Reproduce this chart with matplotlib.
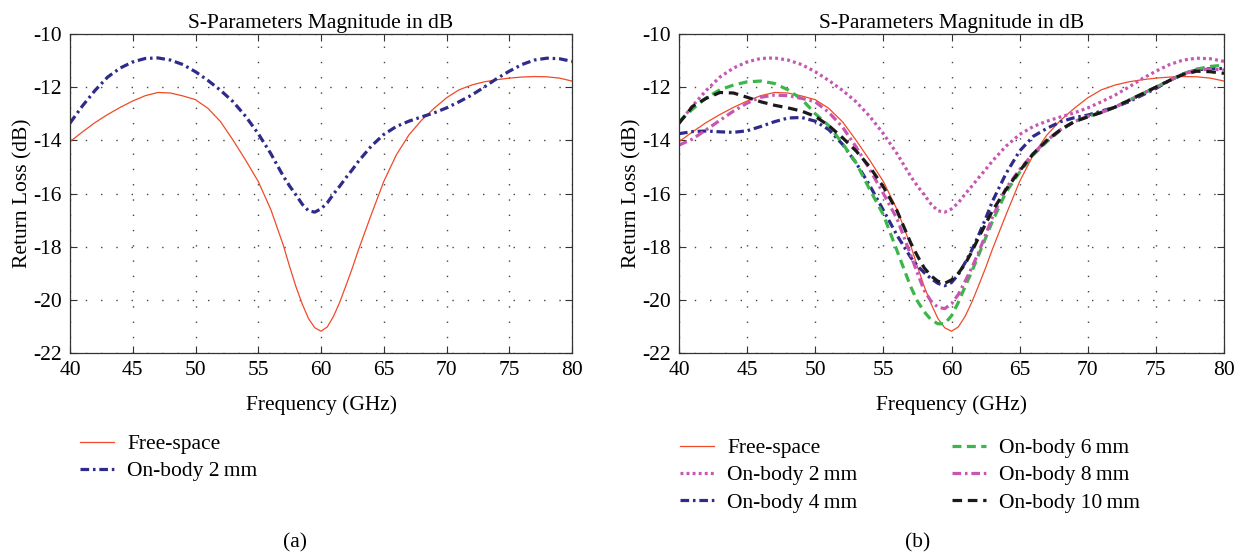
import matplotlib
matplotlib.use("Agg")
import matplotlib.pyplot as plt

plt.rcParams['font.family'] = ['Liberation Serif', 'DejaVu Serif']
plt.rcParams['font.size'] = 15.5

# ---------------- data ----------------
freq = [40, 41, 42, 43, 44, 45, 46, 47, 48, 49, 50, 51, 52, 53, 54, 55, 56, 57, 57.5, 58,
        58.5, 59, 59.5, 60, 60.5, 61, 61.5, 62, 62.5, 63, 64, 65, 66, 67, 68, 69, 70,
        71, 72, 73, 74, 75, 76, 77, 78, 79, 80]

free_space = [-14.05, -13.68, -13.33, -13.03, -12.76, -12.52, -12.32, -12.20, -12.22, -12.33,
              -12.47, -12.80, -13.30, -14.00, -14.75, -15.55, -16.60, -17.95, -18.75, -19.50,
              -20.15, -20.70, -21.05, -21.18, -21.02, -20.62, -20.08, -19.45, -18.80, -18.10,
              -16.80, -15.55, -14.55, -13.80, -13.25, -12.80, -12.40, -12.10, -11.92, -11.80,
              -11.72, -11.66, -11.62, -11.60, -11.61, -11.66, -11.77]

on_body_2mm = [-13.35, -12.70, -12.12, -11.62, -11.28, -11.05, -10.92, -10.90, -10.98, -11.15,
               -11.42, -11.75, -12.12, -12.55, -13.10, -13.75, -14.50, -15.35, -15.72, -16.05,
               -16.40, -16.65, -16.70, -16.58, -16.35, -16.02, -15.72, -15.40, -15.10, -14.78,
               -14.22, -13.78, -13.48, -13.28, -13.12, -12.97, -12.78, -12.55, -12.30, -12.00,
               -11.68, -11.40, -11.15, -10.98, -10.91, -10.93, -11.03]

on_body_4mm = [-13.75, -13.67, -13.65, -13.68, -13.70, -13.64, -13.48, -13.30, -13.16, -13.14,
               -13.28, -13.60, -14.15, -14.85, -15.70, -16.63, -17.57, -18.40, -18.72, -18.98,
               -19.20, -19.38, -19.47, -19.35, -19.05, -18.60, -18.12, -17.55, -16.95, -16.30,
               -15.25, -14.40, -13.85, -13.55, -13.30, -13.15, -13.05, -12.90, -12.75, -12.55,
               -12.30, -12.05, -11.75, -11.50, -11.35, -11.30, -11.30]

on_body_6mm = [-13.30, -12.82, -12.40, -12.10, -11.92, -11.80, -11.77, -11.86, -12.10, -12.45,
               -13.00, -13.45, -14.12, -14.85, -15.85, -16.80, -18.15, -19.50, -20.05, -20.45,
               -20.75, -20.90, -20.90, -20.60, -20.10, -19.50, -18.92, -18.30, -17.68, -17.05,
               -15.95, -15.20, -14.55, -14.05, -13.62, -13.30, -13.10, -12.95, -12.75, -12.50,
               -12.25, -12.00, -11.75, -11.50, -11.32, -11.22, -11.17]

on_body_8mm = [-14.18, -13.95, -13.60, -13.25, -12.90, -12.60, -12.38, -12.30, -12.32, -12.42,
               -12.55, -12.95, -13.50, -14.25, -15.10, -16.00, -16.95, -18.30, -19.00, -19.65,
               -20.05, -20.28, -20.33, -20.15, -19.80, -19.30, -18.78, -18.20, -17.56, -16.90,
               -15.80, -15.10, -14.50, -14.00, -13.60, -13.30, -13.10, -12.95, -12.75, -12.50,
               -12.25, -12.00, -11.75, -11.50, -11.35, -11.32, -11.35]

on_body_10mm = [-13.36, -12.72, -12.42, -12.20, -12.22, -12.38, -12.55, -12.68, -12.78, -12.90,
                -13.10, -13.45, -13.90, -14.40, -15.00, -15.75, -16.65, -17.85, -18.35, -18.80,
                -19.10, -19.30, -19.38, -19.25, -19.00, -18.65, -18.18, -17.65, -17.15, -16.65,
                -15.85, -15.15, -14.50, -14.00, -13.60, -13.30, -13.12, -12.95, -12.75, -12.50,
                -12.25, -12.00, -11.75, -11.52, -11.40, -11.42, -11.48]

x_ticks = [40, 45, 50, 55, 60, 65, 70, 75, 80]
y_ticks = [-10, -12, -14, -16, -18, -20, -22]
title = "S-Parameters Magnitude in dB"
xlabel = "Frequency (GHz)"
ylabel = "Return Loss (dB)"

# ---------------- styles ----------------
RED = '#f04a28'
BLUE = '#2e2b8c'
PINK = '#c756b3'
GREEN = '#3cb64b'
BLACK = '#1a1a1a'
LW = 2.3
DASHDOT = (0, (2.7, 1.2, 0.8, 1.2))

sty = {
    'fs':   dict(color=RED, lw=0.9, ls='-'),
    'b2':   dict(color=BLUE, lw=LW, ls=DASHDOT),
    'p2':   dict(color=PINK, lw=LW, ls=(0, (0.9, 1.0))),
    'b4':   dict(color=BLUE, lw=LW, ls=DASHDOT),
    'g6':   dict(color=GREEN, lw=LW, ls=(0, (2.8, 1.7))),
    'p8':   dict(color=PINK, lw=LW, ls=DASHDOT),
    'k10':  dict(color=BLACK, lw=LW, ls=(0, (3.0, 1.8))),
}

W, H = 1245, 553
fig = plt.figure(figsize=(W / 100, H / 100), dpi=100)


def fx(px):
    return px / W


def fy(py):
    return 1 - py / H


axA = fig.add_axes([fx(70), fy(353), fx(572) - fx(70), fy(34) - fy(353)])
axB = fig.add_axes([fx(679), fy(353), fx(1224) - fx(679), fy(34) - fy(353)])

for ax in (axA, axB):
    ax.set_xlim(40, 80)
    ax.set_ylim(-22, -10)
    ax.set_xticks(x_ticks)
    ax.set_yticks(y_ticks)
    ax.set_yticklabels([str(t) for t in y_ticks])
    ax.tick_params(direction='in', top=True, right=True, length=5, width=0.8,
                   labelsize=15.5, pad=6, color='#333333')
    ax.grid(True, linestyle=(0, (1, 10)), color='#444444', linewidth=1.0)
    for s in ax.spines.values():
        s.set_linewidth(0.9)
        s.set_color('#333333')
    ax.set_title(title, fontsize=15.5, pad=4)
    ax.set_xlabel(xlabel, fontsize=15.5, labelpad=11)
    ax.set_ylabel(ylabel, fontsize=15.5, labelpad=0)

# panel (a)
axA.plot(freq, free_space, **sty['fs'], label='Free-space')
axA.plot(freq, on_body_2mm, **sty['b2'], label='On-body 2\u2009mm')

# panel (b)
lb = {}
lb['fs'] = axB.plot(freq, free_space, **sty['fs'], label='Free-space')[0]
lb['p2'] = axB.plot(freq, on_body_2mm, **sty['p2'], label='On-body 2\u2009mm')[0]
lb['b4'] = axB.plot(freq, on_body_4mm, **sty['b4'], label='On-body 4\u2009mm')[0]
lb['g6'] = axB.plot(freq, on_body_6mm, **sty['g6'], label='On-body 6\u2009mm')[0]
lb['p8'] = axB.plot(freq, on_body_8mm, **sty['p8'], label='On-body 8\u2009mm')[0]
lb['k10'] = axB.plot(freq, on_body_10mm, **sty['k10'], label='On-body 10\u2009mm')[0]

leg_kw = dict(frameon=False, fontsize=15.5, handlelength=1.6, handletextpad=0.6,
              labelspacing=0.34, borderpad=0, borderaxespad=0, loc='upper left',
              bbox_transform=fig.transFigure)

axA.legend(bbox_to_anchor=(fx(80), fy(434)), **leg_kw)

axB.legend(handles=[lb['fs'], lb['p2'], lb['b4']],
           bbox_to_anchor=(fx(680), fy(438)), **leg_kw)
fig.legend(handles=[lb['g6'], lb['p8'], lb['k10']],
           bbox_to_anchor=(fx(952), fy(438)), **leg_kw)

fig.text(fx(295), fy(543), '(a)', ha='center', va='center', fontsize=15.5)
fig.text(fx(918), fy(543), '(b)', ha='center', va='center', fontsize=15.5)

fig.savefig('out.png', dpi=100)
